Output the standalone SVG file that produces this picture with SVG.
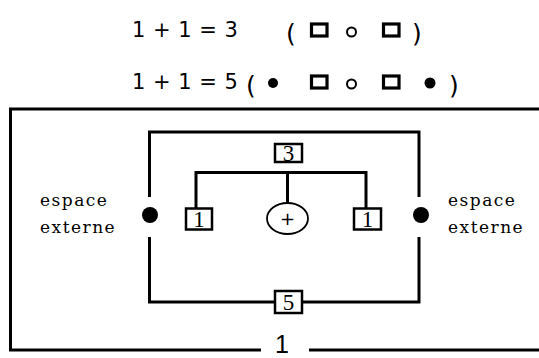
<svg xmlns="http://www.w3.org/2000/svg" width="539" height="358" viewBox="0 0 539 358">
<style>
.ln{fill:none;stroke:#000;stroke-width:3}
.bx{fill:#fff;stroke:#000;stroke-width:2.5}
.sq{fill:none;stroke:#000;stroke-width:3.2}
.oc{fill:none;stroke:#000;stroke-width:2}
.eq{font-family:"DejaVu Sans",sans-serif;font-size:21px;word-spacing:1px;fill:#000}
.par{font-family:"DejaVu Sans",sans-serif;font-size:25px;fill:#000}
.lbl{font-family:"DejaVu Serif",serif;font-size:17px;letter-spacing:1.5px;fill:#000}
.num{font-family:"Liberation Serif",serif;font-size:23px;fill:#000;text-anchor:middle}
</style>
<rect width="539" height="358" fill="#fff"/>
<g id="equation1">
<text class="eq" x="132" y="37" xml:space="preserve">1 + 1 = 3</text>
<text class="par" x="286" y="41.5">(</text>
<rect class="sq" x="311.5" y="24" width="15.5" height="12"/>
<circle class="oc" cx="351.5" cy="32" r="4.5"/>
<rect class="sq" x="383.5" y="24" width="15.5" height="12"/>
<text class="par" x="412" y="41.5">)</text>
</g>
<g id="equation2">
<text class="eq" x="132" y="89" xml:space="preserve">1 + 1 = 5</text>
<text class="par" x="246" y="93.5">(</text>
<circle cx="273" cy="83" r="5"/>
<rect class="sq" x="311.5" y="76" width="15.5" height="12"/>
<circle class="oc" cx="351.5" cy="84" r="4.5"/>
<rect class="sq" x="383.5" y="76" width="15.5" height="12"/>
<circle cx="430" cy="83" r="5.5"/>
<text class="par" x="449" y="93.5">)</text>
</g>
<g id="frame">
<path class="ln" d="M541,109 H10.5 V350 H261 M309,350 H541"/>
<text x="282" y="353" text-anchor="middle" style="font-family:'Liberation Sans',sans-serif;font-size:25px;fill:#000">1</text>
</g>
<g id="connectors">
<path class="ln" d="M149.5,197 V132 H419 V197"/>
<path class="ln" d="M149.5,237 V302 H419 V237"/>
<path class="ln" d="M196,208 V172.5 H366 V208"/>
<path class="ln" d="M287.5,172.5 V203"/>
</g>
<g id="box3"><rect class="bx" x="275" y="144" width="27" height="18"/><text class="num" x="288.5" y="161">3</text></g>
<g id="box5"><rect class="bx" x="275" y="291" width="27" height="22"/><text class="num" x="288.5" y="310">5</text></g>
<g id="box1-left"><rect class="bx" x="186" y="208.5" width="26" height="21"/><text class="num" x="199" y="227">1</text></g>
<g id="box1-right"><rect class="bx" x="354" y="208.5" width="27" height="21"/><text class="num" x="367.5" y="227">1</text></g>
<g id="plus"><ellipse cx="287.5" cy="218.5" rx="20.5" ry="15.5" fill="#fff" stroke="#000" stroke-width="1.8"/><text x="287.5" y="225" text-anchor="middle" style="font-family:'DejaVu Sans',sans-serif;font-size:18px;fill:#000">+</text></g>
<g id="dot-left"><circle cx="150" cy="215" r="8"/></g>
<g id="dot-right"><circle cx="421" cy="215" r="8"/></g>
<g id="label-left"><text class="lbl" x="40" y="206">espace</text><text class="lbl" x="40" y="233">externe</text></g>
<g id="label-right"><text class="lbl" x="448" y="206">espace</text><text class="lbl" x="448" y="233">externe</text></g>
</svg>
